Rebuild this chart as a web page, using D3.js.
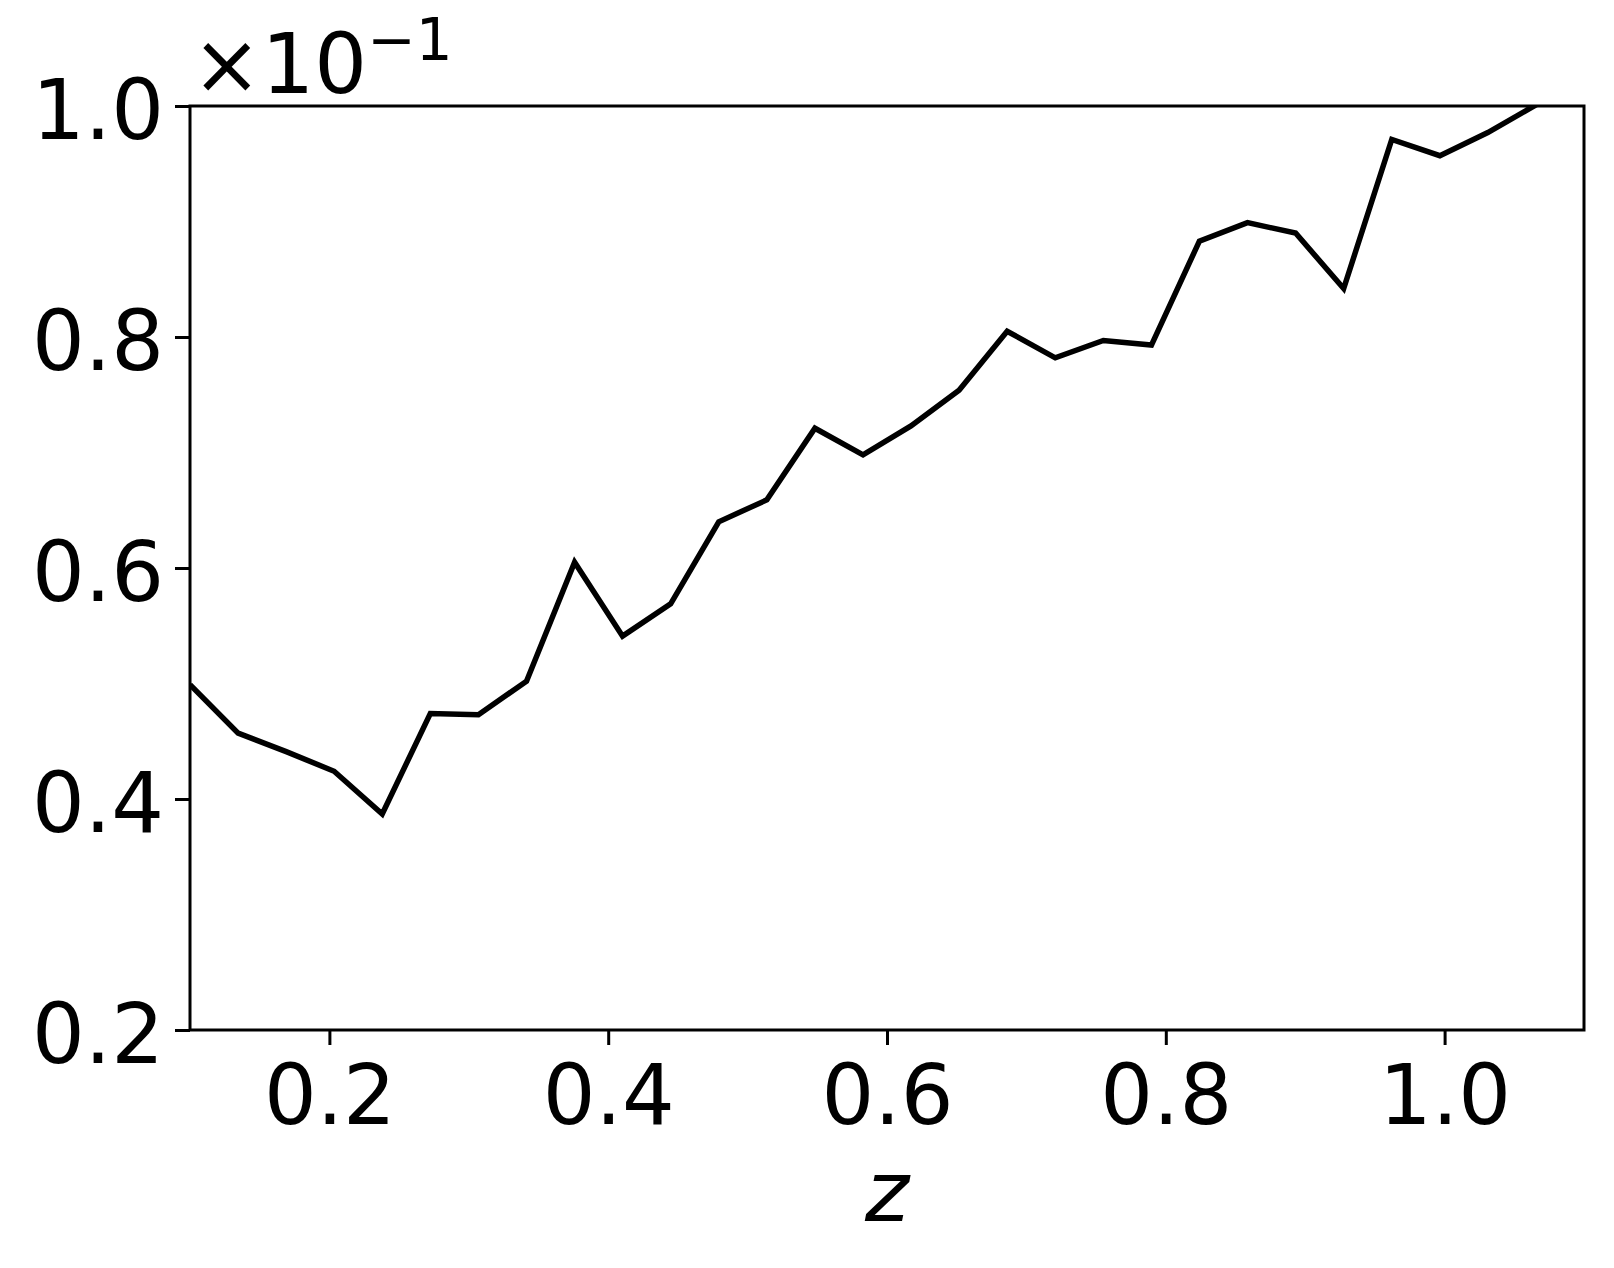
<!DOCTYPE html>
<html>
<head>
<meta charset="utf-8">
<script src="https://cdn.jsdelivr.net/npm/d3@7"></script>
<style>
  body { margin: 0; background: #fff; }
  text { font-family: "DejaVu Sans", sans-serif; fill: #000; }
</style>
</head>
<body>
<div class="chart"></div>
<script>
const zValues = [0.1, 0.1345, 0.1690, 0.2034, 0.2379, 0.2724, 0.3069, 0.3414, 0.3759, 0.4103,
  0.4448, 0.4793, 0.5138, 0.5483, 0.5828, 0.6172, 0.6517, 0.6862, 0.7207, 0.7552,
  0.7897, 0.8241, 0.8586, 0.8931, 0.9276, 0.9621, 0.9966, 1.0310, 1.0655, 1.1]
const yValues = [0.0499, 0.0457, 0.0441, 0.0424, 0.0387, 0.0474, 0.0473, 0.0502, 0.0605, 0.0541,
  0.0569, 0.0640, 0.0659, 0.0721, 0.0698, 0.0723, 0.0754, 0.0805, 0.0782, 0.0797,
  0.0793, 0.0883, 0.0899, 0.0890, 0.0842, 0.0971, 0.0957, 0.0977, 0.1001, 0.1030]
const xTicks = [0.2, 0.4, 0.6, 0.8, 1.0]
const yTicks = [0.02, 0.04, 0.06, 0.08, 0.10]

const w = 1614
const h = 1268
const m = {top: 106, right: 30, bottom: 238, left: 190}
const iw = w - m.left - m.right
const ih = h - m.top - m.bottom
const fs = 83

const svg = d3.select(".chart")
  .append("svg")
  .attr("width", w)
  .attr("height", h)

const g = svg.append("g")
  .attr("transform", `translate(${m.left},${m.top})`)

const x = d3.scaleLinear().domain([0.1, 1.1]).range([0, iw])
const y = d3.scaleLinear().domain([0.02, 0.10]).range([ih, 0])

// clip the line to the plot box
g.append("clipPath").attr("id", "clip")
  .append("rect").attr("width", iw).attr("height", ih)

const data = zValues.map((z, i) => ({z: z, v: yValues[i]}))

g.append("path")
  .datum(data)
  .attr("clip-path", "url(#clip)")
  .attr("fill", "none")
  .attr("stroke", "#000")
  .attr("stroke-width", 5.5)
  .attr("stroke-linejoin", "miter")
  .attr("d", d3.line().x(d => x(d.z)).y(d => y(d.v)))

// axes
const xAxis = d3.axisBottom(x)
  .tickValues(xTicks)
  .tickFormat(d3.format(".1f"))
  .tickSizeInner(15)
  .tickSizeOuter(0)
  .tickPadding(20)

const yAxis = d3.axisLeft(y)
  .tickValues(yTicks)
  .tickFormat(d => (d * 10).toFixed(1))
  .tickSizeInner(15)
  .tickSizeOuter(0)
  .tickPadding(11)

const gx = g.append("g").attr("transform", `translate(0,${ih})`).call(xAxis)
const gy = g.append("g").call(yAxis)

gx.select(".domain").remove()
gy.select(".domain").remove()
gx.selectAll("line").attr("stroke", "#000").attr("stroke-width", 3)
gy.selectAll("line").attr("stroke", "#000").attr("stroke-width", 3)
gx.selectAll("text").style("font-size", fs + "px").attr("fill", "#000")
gy.selectAll("text").style("font-size", fs + "px").attr("fill", "#000").attr("dy", "0.39em")

// frame
g.append("rect")
  .attr("width", iw)
  .attr("height", ih)
  .attr("fill", "none")
  .attr("stroke", "#000")
  .attr("stroke-width", 3)

// offset text
const off = svg.append("text")
  .attr("x", 192)
  .attr("y", 93)
  .style("font-size", fs + "px")
  .text("×10")
off.append("tspan")
  .attr("dy", -33)
  .style("font-size", "58px")
  .text("−1")

// x label
svg.append("text")
  .attr("x", m.left + iw / 2)
  .attr("y", 1221)
  .attr("text-anchor", "middle")
  .style("font-size", "84px")
  .style("font-style", "italic")
  .text("z")
</script>
</body>
</html>
